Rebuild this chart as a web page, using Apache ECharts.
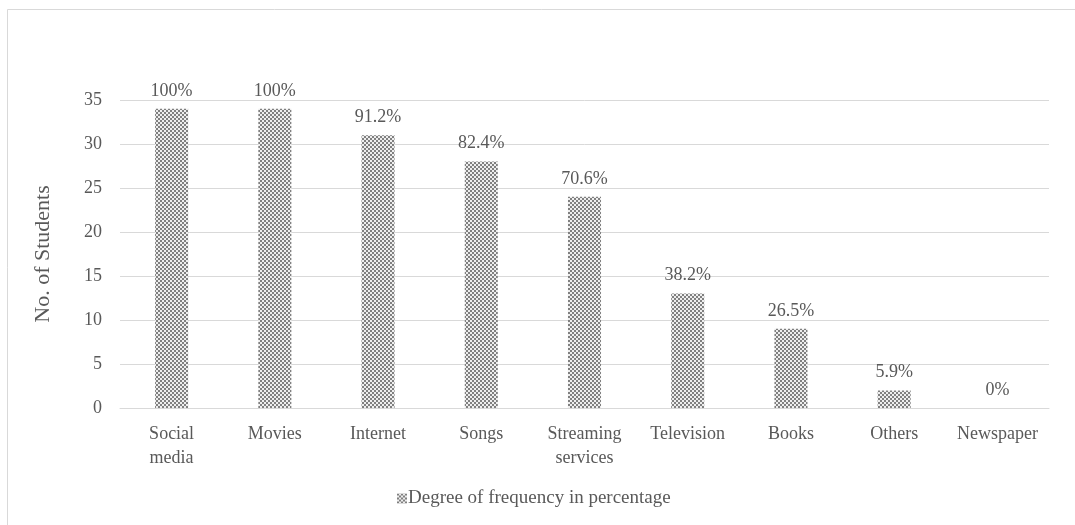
<!DOCTYPE html>
<html>
<head>
<meta charset="utf-8">
<script src="https://cdn.jsdelivr.net/npm/echarts@6/dist/echarts.min.js"></script>
<style>
  html, body { margin: 0; padding: 0; background: #fff; }
  #chart { width: 1075px; height: 525px; }
</style>
</head>
<body>
<div id="chart"></div>
<script>
// Media sources and how many students use them
const categories = ['Social\nmedia', 'Movies', 'Internet', 'Songs', 'Streaming\nservices', 'Television', 'Books', 'Others', 'Newspaper'];
const students = [34, 34, 31, 28, 24, 13, 9, 2, 0];
const percentLabels = ['100%', '100%', '91.2%', '82.4%', '70.6%', '38.2%', '26.5%', '5.9%', '0%'];
const yTicks = [0, 5, 10, 15, 20, 25, 30, 35];
const seriesName = 'Degree of frequency in percentage';

// Small checkerboard tile used as the bar fill
function checkerTile() {
  const c = document.createElement('canvas');
  c.width = 4; c.height = 4;
  const g = c.getContext('2d');
  g.fillStyle = '#eeeeee';
  g.fillRect(0, 0, 4, 4);
  g.fillStyle = '#808080';
  g.fillRect(0, 0, 2, 2);
  g.fillRect(2, 2, 2, 2);
  return c;
}
const pattern = { image: checkerTile(), repeat: 'repeat' };

const font = 'Liberation Serif, Times New Roman, serif';
const textColor = '#595959';

const chart = echarts.init(document.getElementById('chart'), null, { renderer: 'canvas' });
chart.setOption({
  backgroundColor: '#ffffff',
  animation: false,
  graphic: [{
    type: 'polyline',
    shape: { points: [[7.5, 525], [7.5, 9.5], [1075, 9.5]] },
    style: { stroke: '#d9d9d9', lineWidth: 1, fill: null },
    silent: true
  }],
  grid: { left: 120, right: 26, top: 100, bottom: 117, containLabel: false },
  legend: {
    left: 392,
    top: 484,
    itemWidth: 10,
    itemHeight: 10,
    itemGap: 0,
    icon: 'rect',
    textStyle: { fontFamily: font, fontSize: 19, color: textColor, padding: [0, 0, 0, -4] },
    data: [seriesName]
  },
  xAxis: {
    type: 'category',
    data: categories,
    axisLine: { lineStyle: { color: '#d9d9d9', width: 1 } },
    axisTick: { show: false },
    axisLabel: {
      fontFamily: font, fontSize: 18, color: textColor,
      margin: 14, lineHeight: 24, interval: 0
    }
  },
  yAxis: {
    type: 'value',
    min: yTicks[0],
    max: yTicks[yTicks.length - 1],
    interval: 5,
    name: 'No. of Students',
    nameLocation: 'middle',
    nameGap: 66,
    nameTextStyle: { fontFamily: font, fontSize: 22, color: textColor },
    axisLine: { show: false },
    axisTick: { show: false },
    splitLine: { lineStyle: { color: '#d9d9d9', width: 1 } },
    axisLabel: { fontFamily: font, fontSize: 18, color: textColor, margin: 18 }
  },
  series: [{
    name: seriesName,
    type: 'bar',
    data: students,
    barWidth: '32%',
    itemStyle: { color: pattern },
    label: {
      show: true,
      position: 'top',
      distance: 9,
      fontFamily: font,
      fontSize: 18,
      color: textColor,
      formatter: p => percentLabels[p.dataIndex]
    }
  }]
});
</script>
</body>
</html>
